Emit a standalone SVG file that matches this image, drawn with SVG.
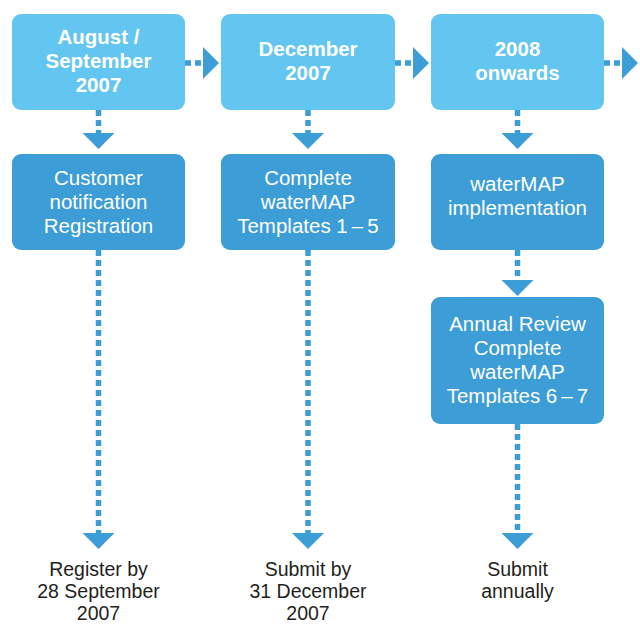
<svg xmlns="http://www.w3.org/2000/svg" width="640" height="624" viewBox="0 0 640 624">
<style>
.top{fill:#63C6F0}
.bot{fill:#3D9DD6}
.tt{font-family:"Liberation Sans",Arial,sans-serif;font-size:20.5px;font-weight:bold;fill:#FFFFFF;text-anchor:middle}
.bt{font-family:"Liberation Sans",Arial,sans-serif;font-size:20.5px;fill:#FFFFFF;text-anchor:middle}
.lt{font-family:"Liberation Sans",Arial,sans-serif;font-size:19.5px;fill:#231F20;text-anchor:middle}
.ln{stroke:#3D9DD6;stroke-width:5.5;stroke-dasharray:6 4;fill:none}
.hd{fill:#3D9DD6}
</style>
<rect width="640" height="624" fill="#FFFFFF"/>
<g id="connectors">
<line class="ln" x1="185" y1="63" x2="203" y2="63"/><polygon class="hd" points="203,47 219,63 203,79"/>
<line class="ln" x1="395" y1="63" x2="413" y2="63"/><polygon class="hd" points="413,47 429,63 413,79"/>
<line class="ln" x1="604" y1="63" x2="622" y2="63"/><polygon class="hd" points="622,47 638,63 622,79"/>
<line class="ln" x1="98.5" y1="110" x2="98.5" y2="134"/><polygon class="hd" points="82.5,133 114.5,133 98.5,149"/>
<line class="ln" x1="308" y1="110" x2="308" y2="134"/><polygon class="hd" points="292,133 324,133 308,149"/>
<line class="ln" x1="517.5" y1="110" x2="517.5" y2="134"/><polygon class="hd" points="501.5,133 533.5,133 517.5,149"/>
<line class="ln" x1="517.5" y1="250" x2="517.5" y2="281"/><polygon class="hd" points="501.5,280 533.5,280 517.5,296"/>
<line class="ln" x1="98.5" y1="250" x2="98.5" y2="534"/><polygon class="hd" points="82.5,533 114.5,533 98.5,549"/>
<line class="ln" x1="308" y1="250" x2="308" y2="534"/><polygon class="hd" points="292,533 324,533 308,549"/>
<line class="ln" x1="517.5" y1="424" x2="517.5" y2="534"/><polygon class="hd" points="501.5,533 533.5,533 517.5,549"/>
</g>
<g id="aug-sep-2007">
<rect class="top" x="12" y="14" width="173" height="96" rx="9"/>
<text class="tt" x="98.5" y="44">August /</text>
<text class="tt" x="98.5" y="68">September</text>
<text class="tt" x="98.5" y="92">2007</text>
</g>
<g id="dec-2007">
<rect class="top" x="221" y="14" width="174" height="96" rx="9"/>
<text class="tt" x="308" y="56">December</text>
<text class="tt" x="308" y="80">2007</text>
</g>
<g id="onwards-2008">
<rect class="top" x="431" y="14" width="173" height="96" rx="9"/>
<text class="tt" x="517.5" y="56">2008</text>
<text class="tt" x="517.5" y="80">onwards</text>
</g>
<g id="customer-registration">
<rect class="bot" x="12" y="154" width="173" height="96" rx="9"/>
<text class="bt" x="98.5" y="185">Customer</text>
<text class="bt" x="98.5" y="209">notification</text>
<text class="bt" x="98.5" y="233">Registration</text>
</g>
<g id="templates-1-5">
<rect class="bot" x="221" y="154" width="174" height="96" rx="9"/>
<text class="bt" x="308" y="185">Complete</text>
<text class="bt" x="308" y="209">waterMAP</text>
<text class="bt" x="308" y="233">Templates 1&#8201;–&#8201;5</text>
</g>
<g id="watermap-implementation">
<rect class="bot" x="431" y="154" width="173" height="96" rx="9"/>
<text class="bt" x="517.5" y="191">waterMAP</text>
<text class="bt" x="517.5" y="215">implementation</text>
</g>
<g id="annual-review">
<rect class="bot" x="431" y="297" width="173" height="127" rx="9"/>
<text class="bt" x="517.5" y="331">Annual Review</text>
<text class="bt" x="517.5" y="355">Complete</text>
<text class="bt" x="517.5" y="379">waterMAP</text>
<text class="bt" x="517.5" y="403">Templates 6&#8201;–&#8201;7</text>
</g>
<g id="register-by">
<text class="lt" x="98.5" y="576">Register by</text>
<text class="lt" x="98.5" y="598">28 September</text>
<text class="lt" x="98.5" y="620">2007</text>
</g>
<g id="submit-by">
<text class="lt" x="308" y="576">Submit by</text>
<text class="lt" x="308" y="598">31 December</text>
<text class="lt" x="308" y="620">2007</text>
</g>
<g id="submit-annually">
<text class="lt" x="517.5" y="576">Submit</text>
<text class="lt" x="517.5" y="598">annually</text>
</g>
</svg>
